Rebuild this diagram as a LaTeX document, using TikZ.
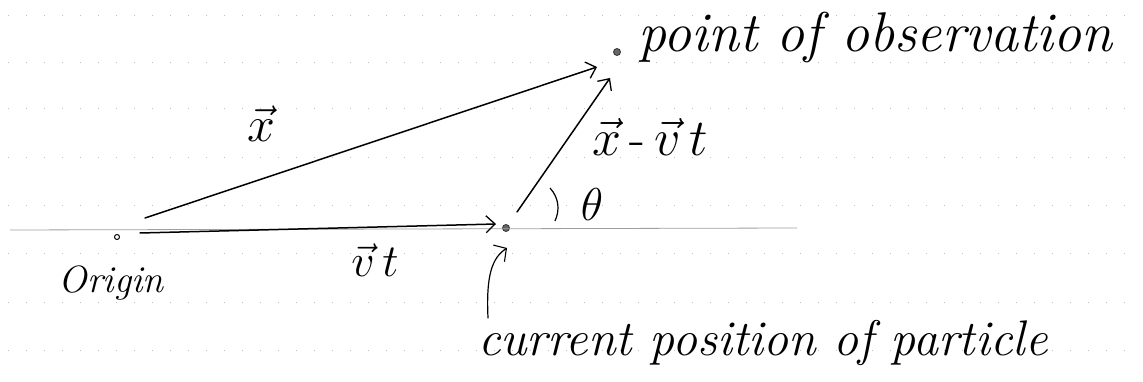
\RequirePackage{fix-cm}
\documentclass[tikz,border=0pt]{standalone}
\usepackage{fontspec}
\usetikzlibrary{arrows.meta}
\begin{document}
\begin{tikzpicture}[x=1pt,y=-1pt,
  paperrow/.style={gray!50, line width=0.8pt, dash pattern=on 1pt off 17pt},
  refline/.style={gray!75, line width=0.8pt},
  vecarrow/.style={line width=1.5pt, line cap=round, -{Straight Barb[length=9pt,width=17pt,line width=1.3pt]}},
  pointer/.style={line width=1.2pt, line cap=round, -{Straight Barb[length=9pt,width=20pt,line width=1.1pt]}},
  hollowdot/.style={circle, draw, line width=1pt, inner sep=0pt, minimum size=5pt},
  fulldot/.style={circle, draw=black!80, fill=gray!80!black, line width=0.8pt, inner sep=0pt, minimum size=7pt},
  hand/.style={inner sep=0pt, font=\itshape},
  mathlab/.style={inner sep=0pt, font=\fontsize{46}{52}\selectfont}
]
\useasboundingbox (0,0) rectangle (1143,382);
% ruled paper
\foreach \yy in {15,62,108,157,205,253,302,350}
  \draw[paperrow] (8,\yy) -- (1140,\yy);
% points
\node[hollowdot] (O) at (117,237) {};
\node[fulldot] (P) at (617,52) {};
\node[fulldot] (Q) at (506,228) {};
% arrow end coordinates
\coordinate (xs) at (145,218);
\coordinate (xe) at (597,67);
\coordinate (vs) at (140,233);
\coordinate (ve) at (496,224);
\coordinate (ds) at (517,212);
\coordinate (de) at (610,78);
\coordinate (ls) at (10,230);
\coordinate (le) at (797,228);
\coordinate (ps) at (488,318);
\coordinate (pe) at (507,248);
% reference line
\draw[refline] (ls) -- (le);
% vectors
\draw[vecarrow] (xs) -- (xe);
\draw[vecarrow] (vs) -- (ve);
\draw[vecarrow] (ds) -- (de);
% angle
\draw[line width=1.2pt] (550,188) .. controls (559,198) and (560,210) .. (555,221);
% pointer
\draw[pointer] (ps) .. controls (486,275) and (492,258) .. (pe);
% labels
\node[mathlab, font=\fontsize{50}{56}\selectfont] (xlab) at (261,124) {$\vec x$};
\node[mathlab] (vtlab) at (375,260) {$\vec v\,t$};
\node[mathlab, font=\fontsize{52}{58}\selectfont] (dlab) at (650,137) {$\vec x\,\hbox{-}\,\vec v\,t$};
\node[mathlab] (th) at (592,205) {$\theta$};
\node[hand, anchor=base, font=\itshape\fontsize{38}{42}\selectfont] (Olab) at (111,292) {Origin};
\node[hand, anchor=base west, font=\itshape\fontsize{56}{60}\selectfont] (obs) at (638,52) {point of observation};
\node[hand, anchor=base west, font=\itshape\fontsize{50}{56}\selectfont] (cur) at (478,355) {current position of particle};
\end{tikzpicture}
\end{document}
